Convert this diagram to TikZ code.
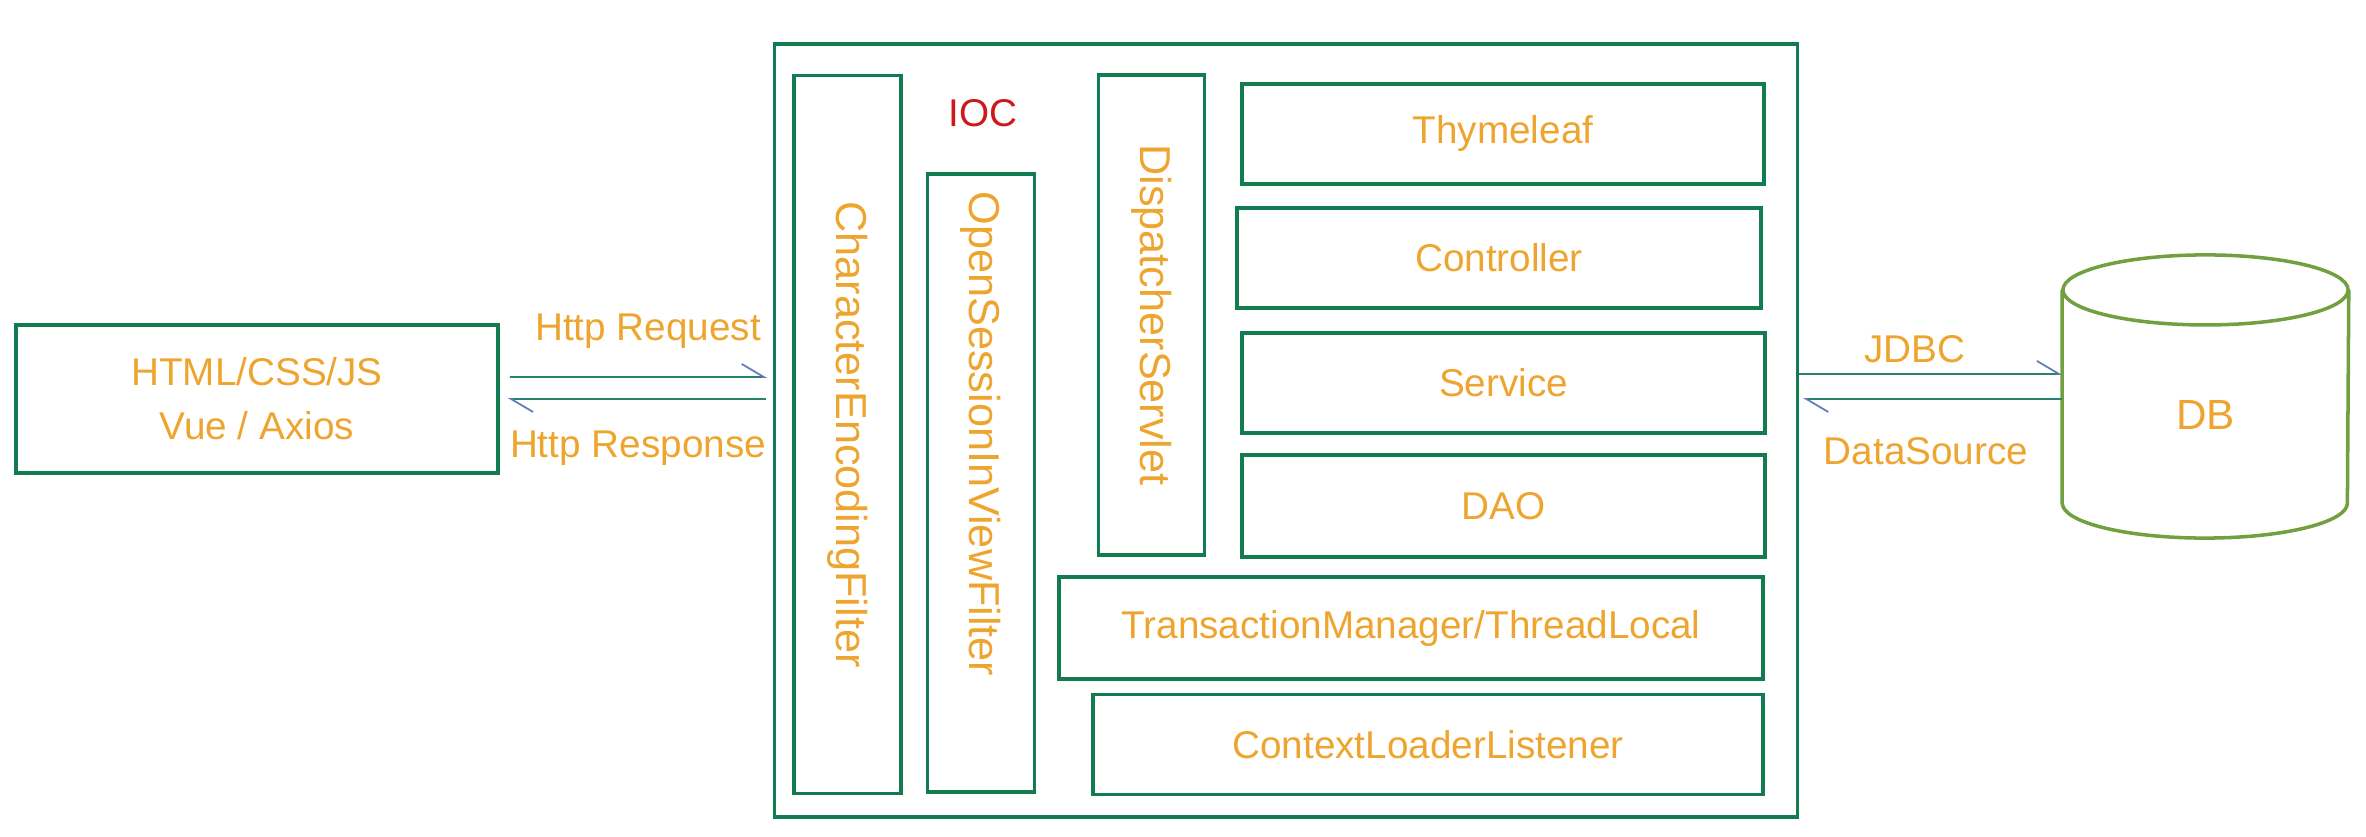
\documentclass[tikz,border=0pt]{standalone}
\usepackage{fontspec}
\setmainfont{Liberation Sans}
\usepackage{tikz}
\usetikzlibrary{arrows.meta}

\definecolor{boxgreen}{RGB}{18,124,80}
\definecolor{dbgreen}{RGB}{112,160,64}
\definecolor{txtorange}{RGB}{238,165,48}
\definecolor{iocred}{RGB}{205,25,25}
\definecolor{wire}{RGB}{40,130,110}
\definecolor{barb}{RGB}{95,125,185}

\tikzset{
  panel/.style={draw=boxgreen, line width=1pt, inner sep=0pt, text=txtorange},
  vpanel/.style={panel, rotate=-90, font=\fontsize{12.3}{14}\selectfont},
  lbl/.style={text=txtorange, inner sep=0pt},
  cyl/.style={draw=dbgreen, line width=1pt},
  wirearrow/.style={draw=wire, line width=0.5pt,
    -{Straight Barb[left, length=0.22cm, width=0.26cm, color=barb]}},
}

\begin{document}
\begin{tikzpicture}[x=0.01cm, y=-0.01cm, font=\fontsize{11}{15.4}\selectfont]
  \useasboundingbox (0,0) rectangle (2366,837);

  % browser side
  \node[panel, align=center, minimum width=4.82cm, minimum height=1.48cm] (client) at (257,399) {HTML/CSS/JS\\Vue / Axios};

  % web container
  \node[panel, minimum width=10.22cm, minimum height=7.73cm] (container) at (1286,430.5) {};
  \node[text=iocred, inner sep=0pt] (ioc) at (983,113) {IOC};

  % filters and servlet
  \node[vpanel, minimum width=7.18cm, minimum height=1.07cm] (encfilter) at (847.5,434.5) {CharacterEncodingFilter};
  \node[panel, minimum width=1.07cm, minimum height=6.18cm] (osivfilter) at (981,483) {};
  \node[lbl, rotate=-90, font=\fontsize{12.3}{14}\selectfont] (osivtext) at (981,434) {OpenSessionInViewFilter};
  \node[vpanel, minimum width=4.8cm, minimum height=1.06cm] (dispatcher) at (1151.5,315) {DispatcherServlet};

  % layers
  \node[panel, minimum width=5.22cm, minimum height=1.0cm] (thymeleaf) at (1503,134) {Thymeleaf};
  \node[panel, minimum width=5.24cm, minimum height=1.0cm] (controller) at (1499,258) {Controller};
  \node[panel, minimum width=5.23cm, minimum height=1.0cm] (service) at (1503.5,383) {Service};
  \node[panel, minimum width=5.23cm, minimum height=1.02cm] (dao) at (1503.5,506) {DAO};
  \node[panel, minimum width=7.04cm, minimum height=1.02cm] (txmanager) at (1411,628) {TransactionManager/ThreadLocal};
  \node[panel, minimum width=6.70cm, minimum height=1.0cm] (listener) at (1428,744.5) {ContextLoaderListener};

  % database
  \node[inner sep=0pt, minimum width=2.85cm, minimum height=2.13cm] (db) at (2205.5,396.5) {};
  \draw[cyl] ([yshift=1.065cm]db.west) -- ([yshift=-1.065cm]db.west)
    arc[start angle=180, end angle=360, x radius=1.425cm, y radius=0.35cm] -- ([yshift=1.065cm]db.east);
  \draw[cyl] ([yshift=1.065cm]db.center) ellipse [x radius=1.425cm, y radius=0.35cm];
  \node[lbl, font=\fontsize{12}{14}\selectfont] (dbtext) at (2205.5,415) {DB};

  % request / response
  \draw[wirearrow] ([xshift=0.1cm, yshift=0.22cm]client.east) -- ([xshift=-0.06cm, yshift=0.535cm]container.west);
  \draw[wirearrow] ([xshift=-0.07cm, yshift=0.315cm]container.west) -- ([xshift=0.08cm]client.east);
  \node[lbl] (reqtext) at (648,331) {Http Request};
  \node[lbl] (resptext) at (638,448) {Http Response};

  % jdbc / datasource
  \draw[wirearrow] ([yshift=0.565cm]container.east) -- ([yshift=0.225cm]db.west);
  \draw[wirearrow] ([yshift=-0.025cm]db.west) -- ([xshift=0.04cm, yshift=0.315cm]container.east);
  \node[lbl] (jdbctext) at (1915,349) {JDBC};
  \node[lbl] (dstext) at (1926,451) {DataSource};
\end{tikzpicture}
\end{document}
